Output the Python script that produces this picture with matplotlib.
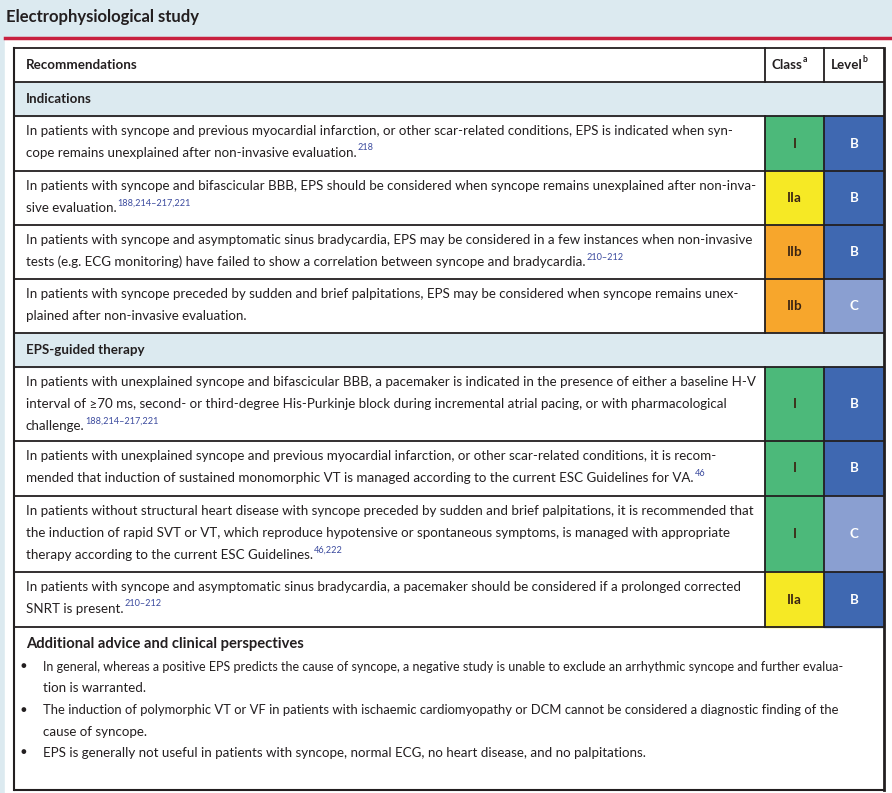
import matplotlib
matplotlib.use("Agg")
import matplotlib.pyplot as plt
from matplotlib.patches import Rectangle

plt.rcParams['font.family'] = ['Lato', 'DejaVu Sans']

title = "Electrophysiological study"
header = "Recommendations"
sections = ["Indications", "EPS-guided therapy"]

# each recommendation: lines of text, superscript refs, class, level, section index
rec_lines = [
    ["In patients with syncope and previous myocardial infarction, or other scar-related conditions, EPS is indicated when syn-",
     "cope remains unexplained after non-invasive evaluation."],
    ["In patients with syncope and bifascicular BBB, EPS should be considered when syncope remains unexplained after non-inva-",
     "sive evaluation."],
    ["In patients with syncope and asymptomatic sinus bradycardia, EPS may be considered in a few instances when non-invasive",
     "tests (e.g. ECG monitoring) have failed to show a correlation between syncope and bradycardia."],
    ["In patients with syncope preceded by sudden and brief palpitations, EPS may be considered when syncope remains unex-",
     "plained after non-invasive evaluation."],
    ["In patients with unexplained syncope and bifascicular BBB, a pacemaker is indicated in the presence of either a baseline H-V",
     "interval of \u226570 ms, second- or third-degree His-Purkinje block during incremental atrial pacing, or with pharmacological",
     "challenge."],
    ["In patients with unexplained syncope and previous myocardial infarction, or other scar-related conditions, it is recom-",
     "mended that induction of sustained monomorphic VT is managed according to the current ESC Guidelines for VA."],
    ["In patients without structural heart disease with syncope preceded by sudden and brief palpitations, it is recommended that",
     "the induction of rapid SVT or VT, which reproduce hypotensive or spontaneous symptoms, is managed with appropriate",
     "therapy according to the current ESC Guidelines."],
    ["In patients with syncope and asymptomatic sinus bradycardia, a pacemaker should be considered if a prolonged corrected",
     "SNRT is present."],
]
rec_refs = ["218", "188,214\u2013217,221", "210\u2013212", "", "188,214\u2013217,221", "46", "46,222", "210\u2013212"]
rec_class = ["I", "IIa", "IIb", "IIb", "I", "I", "I", "IIa"]
rec_level = ["B", "B", "B", "C", "B", "B", "C", "B"]
rec_section = [0, 0, 0, 0, 1, 1, 1, 1]

advice_title = "Additional advice and clinical perspectives"
advice_lines = [
    ["In general, whereas a positive EPS predicts the cause of syncope, a negative study is unable to exclude an arrhythmic syncope and further evalua-",
     "tion is warranted."],
    ["The induction of polymorphic VT or VF in patients with ischaemic cardiomyopathy or DCM cannot be considered a diagnostic finding of the",
     "cause of syncope."],
    ["EPS is generally not useful in patients with syncope, normal ECG, no heart disease, and no palpitations."],
]

class_colors = {"I": "#4cb97a", "IIa": "#f6e925", "IIb": "#f7a62c"}
level_colors = {"B": "#3f68b1", "C": "#8a9fd1"}
bg_blue = "#dceaf0"
ink = "#231f20"
ref_blue = "#3b4a9e"

W, H = 892, 793
fig = plt.figure(figsize=(W / 100, H / 100), dpi=100)
ax = fig.add_axes([0, 0, 1, 1])
ax.set_xlim(0, W)
ax.set_ylim(H, 0)
ax.axis("off")

# layout
x0, x1 = 14, 884
xc, xl = 765, 824
top = 48
header_h = 34
section_h = 34
rec_heights = [55, 54, 54, 54, 74, 55, 76, 55]
line_gap = 22
fs = 9.6

ax.add_patch(Rectangle((0, 0), W, H, color=bg_blue, zorder=0))
ax.add_patch(Rectangle((5, 38), W - 5, H - 38, color="white", zorder=0))
ax.plot([5, W], [38, 38], color="#c8203f", lw=2.5, zorder=1)
ax.text(6, 17, title, fontsize=12, fontweight="bold", color=ink, va="center")

renderer = fig.canvas.get_renderer()
inv = ax.transData.inverted()


def right_edge(t):
    bb = t.get_window_extent(renderer)
    return inv.transform((bb.x1, bb.y0))[0]


def put_line(x, y, s, ref="", max_right=None):
    t = ax.text(x, y, s, fontsize=fs, color=ink, va="center", zorder=3)
    if max_right is not None:
        xe = right_edge(t)
        if xe > max_right:
            t.set_fontsize(fs * (max_right - x) / (xe - x))
    if ref:
        ax.text(right_edge(t) + 1, y - 5, ref, fontsize=6.6, color=ref_blue, va="center", zorder=3)
    return t


def hline(y, lw=1.3):
    ax.plot([x0, x1], [y, y], color=ink, lw=lw, zorder=4, solid_capstyle="butt")


# header row
y = top
hline(y)
ax.text(26, y + header_h / 2, header, fontsize=fs, fontweight="bold", color=ink, va="center")
for xs, lab, sup in [(xc, "Class", "a"), (xl, "Level", "b")]:
    t = ax.text(xs + 7, y + header_h / 2, lab, fontsize=fs, fontweight="bold", color=ink, va="center")
    ax.text(right_edge(t), y + header_h / 2 - 5, sup, fontsize=6.3, fontweight="bold", color=ink, va="center")
ax.plot([xc, xc], [y, y + header_h], color=ink, lw=1.3, zorder=4)
ax.plot([xl, xl], [y, y + header_h], color=ink, lw=1.3, zorder=4)
y += header_h

cur_sec = -1
for i, lines in enumerate(rec_lines):
    if rec_section[i] != cur_sec:
        cur_sec = rec_section[i]
        hline(y)
        ax.add_patch(Rectangle((x0, y), x1 - x0, section_h, color=bg_blue, zorder=1))
        ax.text(26, y + section_h / 2, sections[cur_sec], fontsize=fs, fontweight="bold",
                color=ink, va="center", zorder=3)
        y += section_h
    h = rec_heights[i]
    hline(y)
    ax.add_patch(Rectangle((xc, y), xl - xc, h, color=class_colors[rec_class[i]], zorder=1))
    ax.add_patch(Rectangle((xl, y), x1 - xl, h, color=level_colors[rec_level[i]], zorder=1))
    ax.plot([xc, xc], [y, y + h], color=ink, lw=1.3, zorder=4)
    ax.plot([xl, xl], [y, y + h], color=ink, lw=1.3, zorder=4)
    ax.text((xc + xl) / 2, y + h / 2, rec_class[i], fontsize=fs, fontweight="bold",
            color="#3a2412", ha="center", va="center", zorder=3)
    ax.text((xl + x1) / 2, y + h / 2, rec_level[i], fontsize=fs, fontweight="bold",
            color="white", ha="center", va="center", zorder=3)
    ly = y + 15
    for j, s in enumerate(lines):
        put_line(26, ly, s, rec_refs[i] if j == len(lines) - 1 else "")
        ly += line_gap
    y += h

hline(y)
ax.text(26, y + 17, advice_title, fontsize=10.6, fontweight="bold", color=ink, va="center", zorder=3)
ly = y + 40
for lines in advice_lines:
    ax.text(23, ly, "\u25cf", fontsize=7, color=ink, ha="center", va="center", zorder=3)
    for s in lines:
        put_line(43, ly, s, max_right=846)
        ly += line_gap - 0.5
bottom = 790
hline(bottom, lw=1.5)
ax.plot([x0, x0], [top, bottom], color=ink, lw=1.5, zorder=4)
ax.plot([x1, x1], [top, bottom], color=ink, lw=2.0, zorder=4)

fig.savefig("out.png", dpi=100)
